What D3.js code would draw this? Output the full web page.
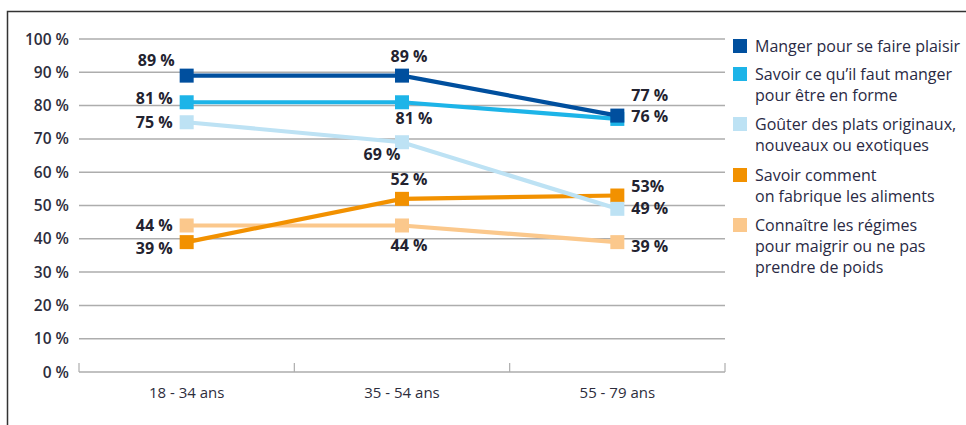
<!DOCTYPE html>
<html>
<head>
<meta charset="utf-8">
<script src="https://cdn.jsdelivr.net/npm/d3@7"></script>
<style>
  body { margin: 0; background: #fff; }
  svg text { font-family: "Open Sans", "Noto Sans", sans-serif; }
</style>
</head>
<body>
<div id="my_dataviz"></div>
<script>
// categories and series
var ages = ["18 - 34 ans", "35 - 54 ans", "55 - 79 ans"];
var yTicks = [0, 10, 20, 30, 40, 50, 60, 70, 80, 90, 100];

var names = [
  ["Manger pour se faire plaisir"],
  ["Savoir ce qu\u2019il faut manger", "pour \u00eatre en forme"],
  ["Go\u00fbter des plats originaux,", "nouveaux ou exotiques"],
  ["Savoir comment", "on fabrique les aliments"],
  ["Conna\u00eetre les r\u00e9gimes", "pour maigrir ou ne pas", "prendre de poids"]
];
var plaisir   = [89, 89, 77];
var forme     = [81, 81, 76];
var goutter   = [75, 69, 49];
var fabrique  = [39, 52, 53];
var regimes   = [44, 44, 39];
var labelsTxt = [
  ["89 %", "89 %", "77 %"],
  ["81 %", "81 %", "76 %"],
  ["75 %", "69 %", "49 %"],
  ["39 %", "52 %", "53%"],
  ["44 %", "44 %", "39 %"]
];

var colors = ["#004f9e", "#1db4e8", "#bde2f4", "#f29100", "#fbc88c"];
// where each value label sits relative to its marker [dx, dy, anchor]
var labelPos = [
  [[-12, -10, "end"], [7, -14, "middle"], [14, -15, "start"]],
  [[-14, 2, "end"],   [12, 22, "middle"], [14, 3, "start"]],
  [[-14, 6, "end"],   [-20, 18, "middle"], [14, 5, "start"]],
  [[-14, 12, "end"],  [7, -14, "middle"], [14, -4, "start"]],
  [[-14, 6, "end"],   [7, 26, "middle"],  [14, 10, "start"]]
];

var series = [plaisir, forme, goutter, fabrique, regimes];

var W = 966, H = 425;
var svg = d3.select("#my_dataviz")
  .append("svg")
    .attr("width", W)
    .attr("height", H);

// frame (top and left only)
svg.append("path")
  .attr("d", "M7.5,425 L7.5,11.5 L966,11.5")
  .attr("fill", "none")
  .attr("stroke", "#333")
  .attr("stroke-width", 1.5);

var x = d3.scalePoint()
  .domain(ages)
  .range([79, 725])
  .padding(0.5);

var y = d3.scaleLinear()
  .domain([0, 100])
  .range([372, 39]);

// grid lines
svg.append("g")
  .selectAll("line")
  .data(yTicks.filter(function(d) { return d > 0; }))
  .enter()
  .append("line")
    .attr("x1", 79)
    .attr("x2", 725)
    .attr("y1", function(d) { return y(d); })
    .attr("y2", function(d) { return y(d); })
    .attr("stroke", "#adadad")
    .attr("stroke-width", 1.5);

// y labels
svg.append("g")
  .selectAll("text")
  .data(yTicks)
  .enter()
  .append("text")
    .attr("x", 69)
    .attr("y", function(d) { return y(d) + 5.5; })
    .attr("text-anchor", "end")
    .attr("font-size", 15.5)
    .attr("font-weight", 600)
    .attr("fill", "#2d2d3c")
    .text(function(d) { return d + " %"; });

// bottom axis with upward ticks between groups
var edges = [79].concat(ages.map(function(a) { return x(a) + x.step() / 2; }));
svg.append("line")
  .attr("x1", 79).attr("x2", 725)
  .attr("y1", y(0)).attr("y2", y(0))
  .attr("stroke", "#adadad")
  .attr("stroke-width", 1.5);
svg.append("g")
  .selectAll("line")
  .data(edges)
  .enter()
  .append("line")
    .attr("x1", function(d) { return d; })
    .attr("x2", function(d) { return d; })
    .attr("y1", y(0) - 9)
    .attr("y2", y(0))
    .attr("stroke", "#adadad")
    .attr("stroke-width", 1.2);

svg.append("g")
  .selectAll("text")
  .data(ages)
  .enter()
  .append("text")
    .attr("x", function(d) { return x(d); })
    .attr("y", 398)
    .attr("text-anchor", "middle")
    .attr("font-size", 15)
    .attr("fill", "#2d2d3c")
    .text(function(d) { return d; });

// lines + markers, drawn back to front
var line = d3.line()
  .x(function(d, i) { return x(ages[i]); })
  .y(function(d) { return y(d); });

var order = [4, 3, 2, 1, 0];
order.forEach(function(s) {
  var g = svg.append("g");
  g.append("path")
    .datum(series[s])
    .attr("d", line)
    .attr("fill", "none")
    .attr("stroke", colors[s])
    .attr("stroke-width", 4.2);
  g.selectAll("rect")
    .data(series[s])
    .enter()
    .append("rect")
      .attr("x", function(d, i) { return x(ages[i]) - 7; })
      .attr("y", function(d) { return y(d) - 7; })
      .attr("width", 14)
      .attr("height", 14)
      .attr("fill", colors[s]);
});

// value labels
series.forEach(function(vals, s) {
  svg.append("g")
    .selectAll("text")
    .data(vals)
    .enter()
    .append("text")
      .attr("x", function(d, i) { return x(ages[i]) + labelPos[s][i][0]; })
      .attr("y", function(d, i) { return y(d) + labelPos[s][i][1]; })
      .attr("text-anchor", function(d, i) { return labelPos[s][i][2]; })
      .attr("font-size", 16)
      .attr("font-weight", 700)
      .attr("fill", "#232330")
      .text(function(d, i) { return labelsTxt[s][i]; });
});

// legend
var legendY = [46, 74, 124, 175, 225];
var legend = svg.append("g");
names.forEach(function(lines, s) {
  legend.append("rect")
    .attr("x", 733)
    .attr("y", legendY[s] - 7)
    .attr("width", 14)
    .attr("height", 14)
    .attr("fill", colors[s]);
  var t = legend.append("text")
    .attr("x", 755)
    .attr("y", legendY[s] + 6)
    .attr("font-size", 16)
    .attr("fill", "#2a2a44");
  lines.forEach(function(l, k) {
    t.append("tspan")
      .attr("x", 755)
      .attr("dy", k === 0 ? 0 : 21)
      .text(l);
  });
});
</script>
</body>
</html>
